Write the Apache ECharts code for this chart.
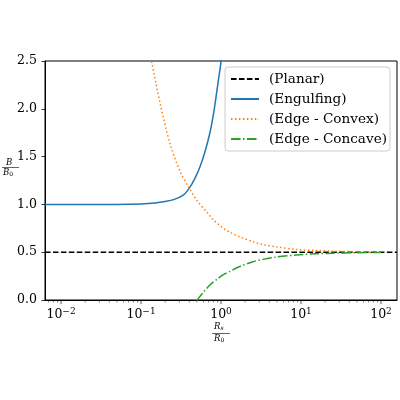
<!DOCTYPE html>
<html>
<head>
<meta charset="utf-8">
<script src="https://cdn.jsdelivr.net/npm/echarts@6/dist/echarts.min.js"></script>
<style>
  html, body { margin: 0; padding: 0; background: #fff; }
  #chart { width: 400px; height: 400px; }
</style>
</head>
<body>
<div id="chart"></div>
<script>
// axis range (log x)
const xMin = 0.0063
const xMax = 158.5

// (Planar)
const planarX = [xMin, xMax]
const planarY = [0.5, 0.5]

// (Engulfing)
const engulfX = [0.0063, 0.01, 0.02, 0.05, 0.1, 0.15, 0.2, 0.256, 0.341, 0.401, 0.47, 0.549, 0.63, 0.731, 0.81, 0.885, 0.95, 1.0, 1.05]
const engulfY = [1.0, 1.0, 1.0, 1.0, 1.005, 1.015, 1.03, 1.05, 1.10, 1.17, 1.27, 1.40, 1.55, 1.76, 1.96, 2.18, 2.36, 2.49, 2.65]

// (Edge - Convex)
const convexX = [0.125, 0.136, 0.175, 0.233, 0.31, 0.401, 0.5, 0.665, 0.8, 1.07, 1.29, 1.72, 2.5, 3.34, 5, 8.67, 15, 25, 50, 100]
const convexY = [2.66, 2.49, 2.04, 1.62, 1.34, 1.17, 1.04, 0.92, 0.84, 0.75, 0.71, 0.66, 0.61, 0.58, 0.555, 0.53, 0.518, 0.511, 0.505, 0.503]

// (Edge - Concave)
const concaveX = [0.5, 0.524, 0.6, 0.731, 0.9, 1.07, 1.29, 1.72, 2.5, 3.34, 5, 8.67, 15, 25, 50, 100]
const concaveY = [-0.01, 0.02, 0.08, 0.16, 0.22, 0.266, 0.30, 0.35, 0.40, 0.425, 0.45, 0.47, 0.483, 0.49, 0.495, 0.497]

// x tick positions
const majorTicks = [0.01, 0.1, 1, 10, 100]
const minorTicks = [0.007, 0.008, 0.009,
  0.02, 0.03, 0.04, 0.05, 0.06, 0.07, 0.08, 0.09,
  0.2, 0.3, 0.4, 0.5, 0.6, 0.7, 0.8, 0.9,
  2, 3, 4, 5, 6, 7, 8, 9,
  20, 30, 40, 50, 60, 70, 80, 90]

const FONT = 'DejaVu Serif'
const zip = (xs, ys) => xs.map((x, i) => [x, ys[i]])

let myChart = echarts.init(document.getElementById('chart'))
let option = {
  animation: false,
  textStyle: { fontFamily: FONT },
  grid: {
    left: 45,
    right: 1,
    top: 61,
    bottom: 100,
    show: true,
    borderColor: '#000',
    borderWidth: 1
  },
  legend: {
    data: ['(Planar)', '(Engulfing)', '(Edge - Convex)', '(Edge - Concave)'],
    orient: 'vertical',
    left: 225,
    top: 67,
    padding: [5, 3, 5, 5],
    itemWidth: 28,
    itemHeight: 14,
    itemGap: 6,
    itemStyle: { opacity: 0 },
    backgroundColor: 'rgba(255,255,255,0.8)',
    borderColor: '#cccccc',
    borderWidth: 1,
    borderRadius: 3,
    textStyle: { fontFamily: FONT, fontSize: 13.6, color: '#000', padding: [0, 0, 0, 5] }
  },
  xAxis: {
    type: 'log',
    logBase: 10,
    min: xMin,
    max: xMax,
    axisLine: { show: true, lineStyle: { color: '#000', width: 1 } },
    axisTick: { show: false },
    splitLine: { show: false },
    axisLabel: {
      margin: 7,
      color: '#000',
      fontFamily: FONT,
      formatter: v => {
        let e = Math.log10(v)
        if (Math.abs(e - Math.round(e)) > 1e-6) return ''
        let s = String(Math.round(e)).replace('-', '\u2212')
        return '{b|10}{s|' + s + '}'
      },
      rich: {
        b: { fontFamily: FONT, fontSize: 12.5, color: '#000' },
        s: { fontFamily: FONT, fontSize: 9, color: '#000', padding: [0, 0, 7, 0] }
      }
    }
  },
  yAxis: {
    type: 'value',
    min: 0,
    max: 2.5,
    interval: 0.5,
    axisLine: { show: true, lineStyle: { color: '#000', width: 1 } },
    axisTick: { show: true, length: 3.5, inside: false, lineStyle: { color: '#000', width: 0.8 } },
    splitLine: { show: false },
    axisLabel: {
      margin: 8,
      color: '#000',
      fontFamily: FONT,
      fontSize: 12.5,
      formatter: v => v.toFixed(1)
    }
  },
  graphic: [
    // y label  B / B0
    { type: 'text', left: 6, top: 158, style: { text: 'B', font: 'italic 8.5px ' + FONT, fill: '#000' } },
    { type: 'line', shape: { x1: 2, y1: 167.5, x2: 19, y2: 167.5 }, style: { stroke: '#000', lineWidth: 0.6 } },
    { type: 'text', left: 3, top: 168, style: { text: '{i|B}{o|0}', rich: { i: { font: 'italic 8.5px ' + FONT, fill: '#000' }, o: { font: '6px ' + FONT, fill: '#000', padding: [3, 0, 0, 0] } } } },
    // x label  Rs / R0
    { type: 'text', left: 214, top: 322, style: { text: '{i|R}{o|s}', rich: { i: { font: 'italic 8.5px ' + FONT, fill: '#000' }, o: { font: 'italic 6px ' + FONT, fill: '#000', padding: [3, 0, 0, 0] } } } },
    { type: 'line', shape: { x1: 212, y1: 333.5, x2: 230, y2: 333.5 }, style: { stroke: '#000', lineWidth: 0.6 } },
    { type: 'text', left: 214, top: 334, style: { text: '{i|R}{o|0}', rich: { i: { font: 'italic 8.5px ' + FONT, fill: '#000' }, o: { font: '6px ' + FONT, fill: '#000', padding: [3, 0, 0, 0] } } } }
  ],
  series: [
    {
      name: '(Planar)',
      type: 'line',
      symbol: 'none',
      data: zip(planarX, planarY),
      lineStyle: { color: '#000', width: 1.5, type: [5.55, 2.4] },
      itemStyle: { color: '#000' },
      z: 3
    },
    {
      name: '(Engulfing)',
      type: 'line',
      symbol: 'none',
      smooth: 0.3,
      data: zip(engulfX, engulfY),
      lineStyle: { color: '#1f77b4', width: 1.5 },
      itemStyle: { color: '#1f77b4' },
      z: 3
    },
    {
      name: '(Edge - Convex)',
      type: 'line',
      symbol: 'none',
      smooth: 0.3,
      data: zip(convexX, convexY),
      lineStyle: { color: '#ff7f0e', width: 1.5, type: [1.5, 2.475] },
      itemStyle: { color: '#ff7f0e' },
      z: 3
    },
    {
      name: '(Edge - Concave)',
      type: 'line',
      symbol: 'none',
      smooth: 0.3,
      data: zip(concaveX, concaveY),
      lineStyle: { color: '#2ca02c', width: 1.5, type: [9.6, 2.4, 1.5, 2.4] },
      itemStyle: { color: '#2ca02c' },
      z: 3
    },
    // x major ticks
    {
      type: 'scatter',
      data: majorTicks.map(v => [v, 0]),
      symbol: 'rect',
      symbolSize: [0.8, 3.5],
      symbolOffset: [0, 2.25],
      itemStyle: { color: '#000' },
      clip: false,
      silent: true,
      z: 1
    },
    // x minor ticks
    {
      type: 'scatter',
      data: minorTicks.map(v => [v, 0]),
      symbol: 'rect',
      symbolSize: [0.6, 2],
      symbolOffset: [0, 1.5],
      itemStyle: { color: '#000' },
      clip: false,
      silent: true,
      z: 1
    }
  ]
}
myChart.setOption(option)
</script>
</body>
</html>
